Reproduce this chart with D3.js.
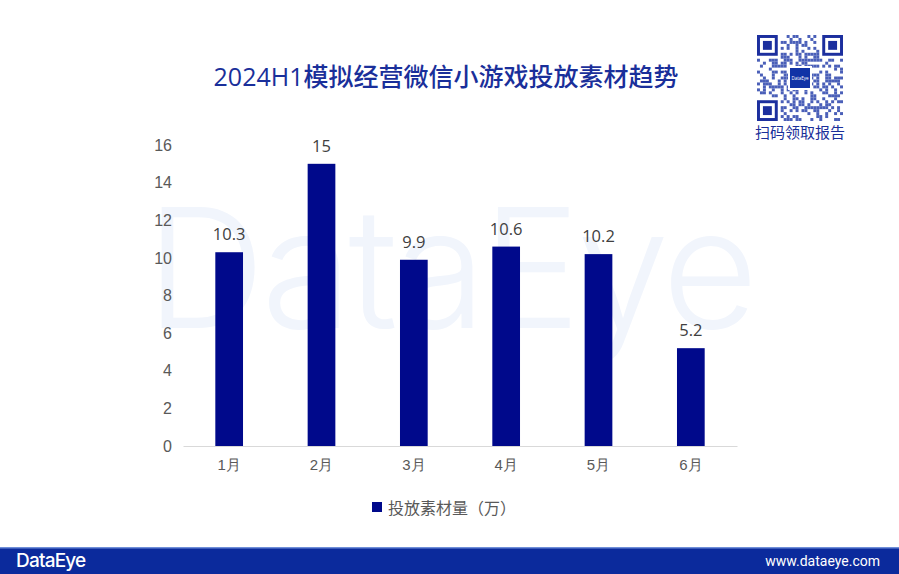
<!DOCTYPE html>
<html>
<head>
<meta charset="utf-8">
<script src="https://cdn.jsdelivr.net/npm/d3@7"></script>
<style>
  body { margin: 0; background: #fff; }
  svg { display: block; font-family: "Open Sans", "Noto Sans CJK SC", sans-serif; }
</style>
</head>
<body>
<svg></svg>
<script>
var months = ["1月", "2月", "3月", "4月", "5月", "6月"];
var amounts = [10.3, 15, 9.9, 10.6, 10.2, 5.2];
var yTicks = [0, 2, 4, 6, 8, 10, 12, 14, 16];
var seriesName = "投放素材量（万）";
var title = "2024H1模拟经营微信小游戏投放素材趋势";

var svgWidth = 899, svgHeight = 574;
var barColor = "#00098b";
var brandBlue = "#1a2f9a";

var svg = d3.select("svg")
    .attr("width", svgWidth)
    .attr("height", svgHeight);

// faint watermark behind the plot (it is in the source image too)
svg.append("text")
    .attr("x", 450).attr("y", 328)
    .attr("text-anchor", "middle")
    .attr("font-family", "Inter, 'DejaVu Sans', sans-serif")
    .attr("font-size", 166)
    .attr("font-weight", 300)
    .attr("letter-spacing", -4)
    .attr("fill", "#f1f5fc")
    .text("DataEye");

var x = d3.scaleBand()
    .domain(months)
    .range([183, 737])
    .paddingInner(0.7)
    .paddingOuter(0.35);

var y = d3.scaleLinear()
    .domain([0, 16])
    .range([446, 145]);

// y axis (labels only)
var yAxis = svg.append("g")
    .attr("transform", "translate(172,0)")
    .call(d3.axisLeft(y).tickValues(yTicks).tickSize(0).tickPadding(0));
yAxis.select(".domain").remove();
yAxis.selectAll("text")
    .attr("font-size", 16)
    .attr("fill", "#595959");

// x axis
var xAxis = svg.append("g")
    .attr("transform", "translate(0,446)")
    .call(d3.axisBottom(x).tickSize(0).tickPadding(13));
xAxis.select(".domain").attr("stroke", "#d9d9d9").attr("stroke-width", 1.2);
xAxis.selectAll("text")
    .attr("font-size", 15)
    .attr("fill", "#595959");

// bars
svg.selectAll("rect.bar")
    .data(amounts)
    .enter()
    .append("rect")
    .attr("class", "bar")
    .attr("x", function(d, i) { return x(months[i]); })
    .attr("y", function(d) { return y(d); })
    .attr("width", x.bandwidth())
    .attr("height", function(d) { return y(0) - y(d); })
    .attr("fill", barColor);

// value labels
svg.selectAll("text.val")
    .data(amounts)
    .enter()
    .append("text")
    .attr("class", "val")
    .attr("x", function(d, i) { return x(months[i]) + x.bandwidth() / 2; })
    .attr("y", function(d) { return y(d) - 12; })
    .attr("text-anchor", "middle")
    .attr("font-size", 16.5)
    .attr("fill", "#404040")
    .text(function(d) { return d; });

// title
svg.append("text")
    .attr("x", 446).attr("y", 86)
    .attr("text-anchor", "middle")
    .attr("font-size", 25)
    .attr("font-weight", 500)
    .attr("fill", brandBlue)
    .text(title);

// legend
svg.append("rect")
    .attr("x", 372).attr("y", 502)
    .attr("width", 10).attr("height", 10)
    .attr("fill", barColor);
svg.append("text")
    .attr("x", 388).attr("y", 514)
    .attr("font-size", 16)
    .attr("fill", "#595959")
    .text(seriesName);

// QR code style badge (decorative)
var qr = svg.append("g").attr("transform", "translate(757,35)");
var qrSize = 86, cells = 29, cs = qrSize / cells;
qr.append("rect").attr("width", qrSize).attr("height", qrSize).attr("fill", "#fff");
var bits = [];
for (var r = 0; r < cells; r++) {
    for (var c = 0; c < cells; c++) {
        var h = ((r * 7919 + c * 104729 + r * c * 31) ^ (r << 3) ^ (c << 5)) % 7;
        var inFinder = (r < 8 && c < 8) || (r < 8 && c > cells - 9) || (r > cells - 9 && c < 8);
        if (!inFinder && h < 3) bits.push([r, c]);
    }
}
qr.selectAll("rect.px")
    .data(bits)
    .enter()
    .append("rect")
    .attr("class", "px")
    .attr("x", function(d) { return d[1] * cs; })
    .attr("y", function(d) { return d[0] * cs; })
    .attr("width", cs).attr("height", cs)
    .attr("fill", "#4a5fb8");
[[0, 0], [0, cells - 7], [cells - 7, 0]].forEach(function(p) {
    qr.append("rect").attr("x", p[1] * cs + cs / 2).attr("y", p[0] * cs + cs / 2)
        .attr("width", 6 * cs).attr("height", 6 * cs)
        .attr("fill", "none").attr("stroke", "#1c2f9e").attr("stroke-width", cs);
    qr.append("rect").attr("x", (p[1] + 2) * cs).attr("y", (p[0] + 2) * cs)
        .attr("width", 3 * cs).attr("height", 3 * cs)
        .attr("fill", "#1c2f9e");
});
qr.append("rect").attr("x", 31).attr("y", 31).attr("width", 24).attr("height", 24)
    .attr("fill", "#fff");
qr.append("rect").attr("x", 33).attr("y", 33).attr("width", 20).attr("height", 20)
    .attr("fill", "#1133a6");
qr.append("text").attr("x", 43).attr("y", 45).attr("text-anchor", "middle")
    .attr("font-size", 4.5).attr("fill", "#fff").text("DataEye");
svg.append("text")
    .attr("x", 800).attr("y", 138)
    .attr("text-anchor", "middle")
    .attr("font-size", 15)
    .attr("fill", brandBlue)
    .text("扫码领取报告");

// footer band
svg.append("rect")
    .attr("x", 0).attr("y", 547)
    .attr("width", svgWidth).attr("height", 27)
    .attr("fill", "#0b2a9c");
svg.append("rect")
    .attr("x", 0).attr("y", 547)
    .attr("width", svgWidth).attr("height", 1.5)
    .attr("fill", "#6f8ed8");
svg.append("text")
    .attr("x", 16).attr("y", 567)
    .attr("font-family", "Inter, 'DejaVu Sans', sans-serif")
    .attr("font-size", 19)
    .attr("font-weight", 500)
    .attr("letter-spacing", -0.8)
    .attr("fill", "#fff")
    .text("DataEye");
svg.append("text")
    .attr("x", 880).attr("y", 566)
    .attr("text-anchor", "end")
    .attr("font-family", "Roboto, sans-serif")
    .attr("font-size", 14)
    .attr("fill", "#fff")
    .text("www.dataeye.com");
</script>
</body>
</html>
